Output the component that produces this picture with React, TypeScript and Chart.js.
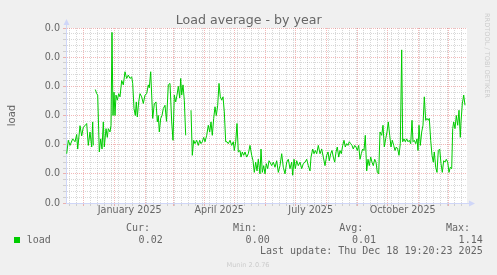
import React, { useEffect, useRef } from "react";
import { Chart, registerables } from "chart.js";

Chart.register(...registerables);

// ---------- text ----------
const TITLE = "Load average - by year";
const Y_AXIS_LABEL = "load";
const SERIES_NAME = "load";
const LAST_UPDATE = "Last update: Thu Dec 18 19:20:23 2025";
const FOOTER = "Munin 2.0.76";
const WATERMARK = "RRDTOOL / TOBI OETIKER";

// ---------- time range ----------
const START_MS = Date.UTC(2024, 10, 13, 19, 20, 23);
const RANGE_DAYS = 401;

// ---------- series (x = days since start, y = load) ----------
const dayOffsets = [
  0.7, 2.3, 4, 6.7, 9, 10.7, 11.7, 14, 15.7, 17.3, 19, 20.7, 22.3, 24, 25.7, 26.7, 27.3,
  28.3,
  29.3, 30.7, 31.7, 33.3, 34.7, 36, 37.3, 38.3, 40, 41.3, 42.3, 44, 45, 46, 47, 48, 49, 50,
  51.3, 52.7, 54, 55.7, 57.3, 59, 60.7, 62.3, 64, 65.7, 66.7, 68, 69.3, 70.3, 71.3, 72.7,
  74, 75.7, 77.3, 79, 80.7, 82.3, 83.3, 84.7, 85.7, 86.7, 88.3, 90, 91.3, 92.3, 93.3, 94.7,
  96, 97.3, 99, 100.5, 102.3, 104, 105.7, 107, 108.3, 109.7, 111, 112.3, 113.7, 114.7,
  115.7, 117, 118.3, 119.7,
  122,
  125, 126.3, 127.7, 129, 130.7, 132.3, 133.7, 135, 136.3, 137.7, 139, 140.7, 142.3, 143.7,
  145, 146.3, 147.7, 149, 150.3, 151.7, 153, 154.3, 155.7, 157, 158.3, 159.7, 161, 162.3,
  164, 165.7, 167.3, 168.3, 169.7, 171, 172.3, 174, 175, 176.3, 177.7, 179, 180.7, 182.3,
  184, 185.7, 187, 188.3, 189.7, 191, 192.3, 194, 195, 196.3, 197.7, 199, 200.3, 201.7,
  203, 204, 205.7, 207.3, 209, 210.7, 212.3, 214, 215.7, 217.3, 219, 220.7, 222.3, 224,
  225.7, 226.7, 228, 229.3, 230.7, 232.3, 234, 235.7, 237.3, 239, 240.7, 242.3, 244, 245,
  246.7, 248, 249.3, 250.7, 252.3, 254, 255.7, 257.3, 259, 260.7, 262, 263.3, 264.7, 266,
  267.3, 268.7, 270, 271.3, 272.7, 274, 275.3, 276.7, 278, 279.3, 280.7, 282, 283.3, 284.7,
  286, 287.3, 288.7, 290, 291.3, 292.7, 294, 295.3, 296.7, 298, 299.3, 300.7, 302, 303.3,
  304.7, 306, 307.3, 308.7, 310, 311.3, 312.7, 314, 315.7, 317, 318.3, 319.7, 321, 322.3,
  323.7, 325, 326.3, 327.7, 329, 330.3, 331.7, 333, 334.3, 335.7, 336.7, 338, 339.3, 340.7,
  342, 343.3, 344.7, 346, 347, 348.3, 349.7, 351, 352, 353, 354.3, 355.7, 357, 358.3,
  359.7, 361, 362.3, 363.3, 364.7, 366, 367.3, 368.3, 369.7, 371, 372.3, 373.7, 375, 376.3,
  377.7, 379, 380.3, 381.7, 383, 384.3, 385.7, 386.7, 387.7, 389, 390.3, 391.7, 393, 394.3,
  395, 396.3, 397.7, 399,
];

const loadValues = [
  0.338, 0.43, 0.395, 0.44, 0.42, 0.47, 0.37, 0.53, 0.46, 0.52, 0.53, 0.545, 0.395, 0.487, 0.384, 0.556, 0.395,
  null,
  0.778, 0.75, 0.74, 0.35, 0.44, 0.37, 0.556, 0.384, 0.51, 0.45, 0.51, 0.487, 0.533, 1.17, 0.6, 0.76, 0.6, 0.74,
  0.705, 0.75, 0.728, 0.84, 0.81, 0.9, 0.854, 0.877, 0.854, 0.865, 0.82, 0.648, 0.6, 0.693, 0.59, 0.693,
  0.75, 0.728, 0.682, 0.74, 0.75, 0.81, 0.79, 0.9, 0.74, 0.58, 0.68, 0.693, 0.556, 0.6, 0.487, 0.58,
  0.6, 0.648, 0.67, 0.56, 0.81, 0.82, 0.556, 0.43, 0.74, 0.693, 0.74, 0.8, 0.72, 0.854,
  0.74, 0.81, 0.705, 0.464,
  null,
  0.636, 0.327, 0.43, 0.407, 0.43, 0.395, 0.43, 0.407, 0.42, 0.45, 0.42, 0.464, 0.533, 0.487,
  0.556, 0.464, 0.58, 0.66, 0.6, 0.67, 0.82, 0.728, 0.705, 0.728, 0.625, 0.42, 0.42, 0.407,
  0.43, 0.395, 0.42, 0.36, 0.42, 0.545, 0.35, 0.36, 0.315, 0.35, 0.327, 0.35, 0.315, 0.338,
  0.395, 0.327, 0.29, 0.21, 0.28, 0.22, 0.3, 0.2, 0.37, 0.21, 0.256, 0.2, 0.27, 0.235,
  0.29, 0.28, 0.256, 0.28, 0.245, 0.29, 0.21, 0.256, 0.338, 0.245, 0.2, 0.28, 0.3, 0.235,
  0.28, 0.19, 0.3, 0.235, 0.29, 0.256, 0.28, 0.235, 0.27, 0.28, 0.3, 0.256, 0.22, 0.315,
  0.37, 0.338, 0.36, 0.338, 0.395, 0.338, 0.37, 0.315, 0.256, 0.327, 0.35, 0.29, 0.338, 0.36,
  0.315, 0.28, 0.35, 0.384, 0.315, 0.36, 0.338, 0.395, 0.43, 0.384, 0.407, 0.395, 0.42, 0.407,
  0.395, 0.37, 0.395, 0.384, 0.36, 0.395, 0.3, 0.338, 0.37, 0.36, 0.464, 0.22, 0.3, 0.256,
  0.315, 0.28, 0.256, 0.3, 0.28, 0.21, 0.2, 0.487, 0.464, 0.533, 0.384, 0.44, 0.487, 0.556,
  0.464, 0.384, 0.43, 0.395, 0.36, 0.384, 0.37, 0.327, 0.407, 1.05, 0.42, 0.44, 0.42, 0.44,
  0.42, 0.43, 0.407, 0.567, 0.42, 0.43, 0.407, 0.44, 0.36, 0.533, 0.395, 0.487, 0.533, 0.728,
  0.567, 0.58, 0.567, 0.58, 0.43, 0.327, 0.28, 0.35, 0.245, 0.21, 0.36, 0.37, 0.27, 0.21,
  0.29, 0.28, 0.3, 0.28, 0.21, 0.245, 0.235, 0.51, 0.556, 0.51, 0.6, 0.533, 0.636, 0.45,
  0.556, 0.68, 0.74, 0.67,
];

// ---------- axes ----------
const Y_MIN = 0;
const Y_MAX = 1.2;
const yMajorValues = [0, 0.2, 0.4, 0.6, 0.8, 1.0, 1.2];
const yTickLabels = ["0.0", "0.0", "0.0", "0.0", "0.0", "0.0", "0.0"];
const Y_MINOR_PER_MAJOR = 5;

const xLabelTexts = ["January 2025", "April 2025", "July 2025", "October 2025"];
const xLabelMonths = [0, 3, 6, 9]; // months of 2025

// ---------- legend ----------
const legendHeaders = ["Cur:", "Min:", "Avg:", "Max:"];
const legendValues = ["0.02", "0.00", "0.01", "1.14"];

// ---------- style ----------
const BG = "#F0F0F0";
const CANVAS_BG = "#FFFFFF";
const LINE_COLOR = "#00CC00";
const MAJOR_GRID = "rgba(222,79,79,0.4)";
const MINOR_GRID = "rgba(143,143,143,0.35)";
const AXIS_COLOR = "#CFD6F8";
const FONT_COLOR = "#666666";
const SANS = "'DejaVu Sans', sans-serif";
const MONO = "'DejaVu Sans Mono', monospace";

const DAY_MS = 86400000;
const dayOf = (ms: number) => (ms - START_MS) / DAY_MS;

function buildXTicks() {
  const ticks: any[] = [];
  const majors: number[] = [];
  for (let m = 11; m <= 24; m++) {
    const d = dayOf(Date.UTC(2024, m, 1));
    if (d > 0 && d < RANGE_DAYS) {
      majors.push(d);
      ticks.push({ value: d, kind: "major", text: "" });
    }
  }
  for (let t = Date.UTC(2024, 10, 17); dayOf(t) < RANGE_DAYS; t += 7 * DAY_MS) {
    const d = dayOf(t);
    if (d <= 0) continue;
    if (majors.some((m) => Math.abs(m - d) < 0.01)) continue;
    ticks.push({ value: d, kind: "minor", text: "" });
  }
  xLabelMonths.forEach((m, i) => {
    const a = dayOf(Date.UTC(2025, m, 1));
    const b = dayOf(Date.UTC(2025, m + 1, 1));
    ticks.push({ value: (a + b) / 2, kind: "label", text: xLabelTexts[i] });
  });
  ticks.sort((p, q) => p.value - q.value);
  return ticks;
}

function buildYTicks() {
  const ticks: any[] = [];
  for (let i = 0; i < yMajorValues.length; i++) {
    ticks.push({ value: yMajorValues[i], kind: "major", text: yTickLabels[i] });
    if (i < yMajorValues.length - 1) {
      const step = (yMajorValues[i + 1] - yMajorValues[i]) / Y_MINOR_PER_MAJOR;
      for (let k = 1; k < Y_MINOR_PER_MAJOR; k++) {
        ticks.push({ value: yMajorValues[i] + step * k, kind: "minor", text: "" });
      }
    }
  }
  return ticks;
}

const gridColor = (c: any) =>
  c.tick && c.tick.kind === "major"
    ? MAJOR_GRID
    : c.tick && c.tick.kind === "minor"
    ? MINOR_GRID
    : "rgba(0,0,0,0)";

const decorPlugin = {
  id: "decor",
  beforeDraw(chart: any) {
    const { ctx, chartArea } = chart;
    ctx.save();
    ctx.fillStyle = BG;
    ctx.fillRect(0, 0, chart.width, chart.height);
    ctx.fillStyle = CANVAS_BG;
    ctx.fillRect(chartArea.left, chartArea.top, chartArea.right - chartArea.left, chartArea.bottom - chartArea.top);
    ctx.restore();
  },
  afterDraw(chart: any) {
    const { ctx, chartArea } = chart;
    const L = chartArea.left;
    const R = chartArea.right;
    const T = chartArea.top;
    const B = chartArea.bottom;
    ctx.save();

    // axis extensions and arrows
    ctx.strokeStyle = AXIS_COLOR;
    ctx.lineWidth = 1;
    ctx.beginPath();
    ctx.moveTo(L + 0.5, T);
    ctx.lineTo(L + 0.5, T - 4);
    ctx.moveTo(R, B + 0.5);
    ctx.lineTo(R + 3, B + 0.5);
    ctx.stroke();
    ctx.fillStyle = AXIS_COLOR;
    ctx.beginPath();
    ctx.moveTo(L - 2.5, T - 3);
    ctx.lineTo(L + 3.5, T - 3);
    ctx.lineTo(L + 0.5, T - 9);
    ctx.closePath();
    ctx.fill();
    ctx.beginPath();
    ctx.moveTo(R + 2, B - 2.5);
    ctx.lineTo(R + 2, B + 3.5);
    ctx.lineTo(R + 8, B + 0.5);
    ctx.closePath();
    ctx.fill();

    // title
    ctx.fillStyle = FONT_COLOR;
    ctx.font = `12.6px ${SANS}`;
    ctx.textAlign = "center";
    ctx.textBaseline = "alphabetic";
    ctx.fillText(TITLE, 248.7, 24);

    // y axis label
    ctx.save();
    ctx.translate(15, (T + B) / 2);
    ctx.rotate(-Math.PI / 2);
    ctx.font = `10px ${SANS}`;
    ctx.textAlign = "center";
    ctx.fillText(Y_AXIS_LABEL, 0, 0);
    ctx.restore();

    // watermark
    ctx.save();
    ctx.translate(485, 13);
    ctx.rotate(Math.PI / 2);
    ctx.font = `6.6px ${SANS}`;
    ctx.fillStyle = "#CCCCCC";
    ctx.textAlign = "left";
    ctx.fillText(WATERMARK, 0, 0);
    ctx.restore();

    // legend
    ctx.fillStyle = LINE_COLOR;
    ctx.fillRect(14, 237, 6, 6);
    ctx.fillStyle = FONT_COLOR;
    ctx.font = `10px ${MONO}`;
    ctx.textAlign = "left";
    ctx.fillText(SERIES_NAME, 26.7, 242.7);
    const headerRight = [150, 257, 363.3, 470];
    ctx.textAlign = "right";
    legendHeaders.forEach((h, i) => {
      ctx.fillText(h, headerRight[i], 231);
      ctx.fillText(legendValues[i], headerRight[i] + 12.7, 242.7);
    });
    ctx.fillText(LAST_UPDATE, 482.7, 254);

    // footer
    ctx.fillStyle = "#CCCCCC";
    ctx.font = `6.6px ${SANS}`;
    ctx.textAlign = "center";
    ctx.fillText(FOOTER, 248, 267);

    ctx.restore();
  },
};

export default function App() {
  const ref = useRef<HTMLCanvasElement | null>(null);

  useEffect(() => {
    document.body.style.margin = "0";
    const canvas = ref.current;
    if (!canvas) return;
    const data = dayOffsets.map((x, i) => ({ x, y: loadValues[i] }));
    const chart = new Chart(canvas, {
      type: "line",
      data: {
        datasets: [
          {
            label: SERIES_NAME,
            data: data as any,
            borderColor: LINE_COLOR,
            borderWidth: 1,
            pointRadius: 0,
            tension: 0,
            spanGaps: false,
            fill: false,
          },
        ],
      },
      options: {
        responsive: false,
        maintainAspectRatio: false,
        animation: false,
        devicePixelRatio: 1,
        layout: { padding: { top: 28, right: 30, left: 0, bottom: 0 } },
        plugins: {
          legend: { display: false },
          tooltip: { enabled: false },
          title: { display: false },
        },
        scales: {
          x: {
            type: "linear",
            min: 0,
            max: RANGE_DAYS,
            afterFit: (s: any) => {
              s.height = 72;
            },
            afterBuildTicks: (s: any) => {
              s.ticks = buildXTicks();
            },
            ticks: {
              autoSkip: false,
              maxRotation: 0,
              minRotation: 0,
              padding: -1,
              color: FONT_COLOR,
              font: { family: SANS, size: 9.6 },
              callback: (_v: any, i: number, ticks: any[]) => ticks[i].text,
            },
            grid: {
              color: gridColor,
              tickColor: gridColor,
              lineWidth: 1,
              drawTicks: true,
              tickLength: 3,
            },
            border: { color: AXIS_COLOR, width: 1, dash: [1, 1] },
          },
          y: {
            type: "linear",
            min: Y_MIN,
            max: Y_MAX,
            afterFit: (s: any) => {
              s.width = 66;
            },
            afterBuildTicks: (s: any) => {
              s.ticks = buildYTicks();
            },
            ticks: {
              autoSkip: false,
              padding: 3,
              color: FONT_COLOR,
              font: { family: SANS, size: 9.6 },
              callback: (_v: any, i: number, ticks: any[]) => ticks[i].text,
            },
            grid: {
              color: gridColor,
              tickColor: gridColor,
              lineWidth: 1,
              drawTicks: true,
              tickLength: 3,
            },
            border: { color: AXIS_COLOR, width: 1, dash: [1, 1] },
          },
        },
      },
      plugins: [decorPlugin],
    });
    return () => chart.destroy();
  }, []);

  return (
    <div style={{ width: 497, height: 275 }}>
      <canvas ref={ref} width={497} height={275} style={{ display: "block" }} />
    </div>
  );
}
